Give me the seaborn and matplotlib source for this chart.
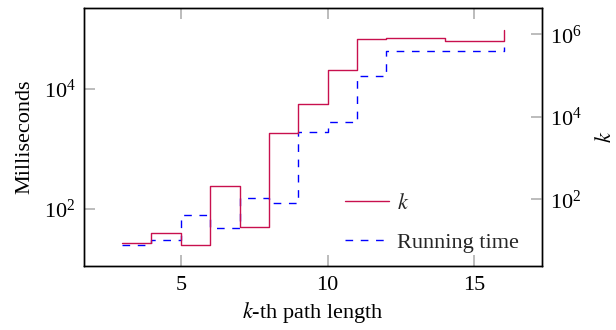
import numpy as np
import pandas as pd
import matplotlib
matplotlib.use("Agg")
import matplotlib.pyplot as plt
import seaborn as sns

# data
path_length = [3, 4, 5, 6, 7, 8, 9, 10, 11, 12, 13, 14, 15, 16]
k_values = [8.9, 15.0, 8.0, 210, 21.7, 3980, 20100, 139000, 757000, 828000, 828000, 700000, 700000, 1320000]
running_ms = [25.4, 30.4, 78.5, 47.7, 151, 126, 1900, 2790, 16300, 43500, 43500, 43500, 43500, 50700]
left_ticks = [1e2, 1e4]
right_ticks = [1e2, 1e4, 1e6]
x_ticks = [5, 10, 15]

sns.set_theme(style="white")
plt.rcParams['font.family'] = ['Liberation Serif', 'DejaVu Serif']
plt.rcParams['mathtext.fontset'] = 'stix'
FS = 16

df = pd.DataFrame({"x": path_length, "k": k_values, "ms": running_ms})

fig = plt.figure(figsize=(6.16, 3.30), dpi=100)
ax = fig.add_axes([84/616, 1-266/330, (541.7-84)/616, (266-8)/330])
ax2 = ax.twinx()

red = '#c8104e'
blue = '#0000ff'

sns.lineplot(data=df, x="x", y="ms", ax=ax, drawstyle='steps-post', color=blue,
             linewidth=1.0, linestyle=(0, (5.5, 5.5)), estimator=None, label="Running time", legend=False)
sns.lineplot(data=df, x="x", y="k", ax=ax2, drawstyle='steps-post', color=red,
             linewidth=1.0, estimator=None, label="$k$", legend=False)

ax.set_yscale('log')
ax2.set_yscale('log')
ax.set_xlim(1.7, 17.3)
ax.set_ylim(10**1.046, 10**5.354)
ax2.set_ylim(10**0.382, 10**6.643)
ax.set_xticks(x_ticks)
ax.set_yticks(left_ticks)
ax2.set_yticks(right_ticks)
ax.yaxis.set_minor_locator(matplotlib.ticker.NullLocator())
ax2.yaxis.set_minor_locator(matplotlib.ticker.NullLocator())

for a in (ax, ax2):
    for s in a.spines.values():
        s.set_color('black')
        s.set_linewidth(1.0)

ax.tick_params(axis='x', which='major', direction='in', length=8, width=1.2, color='#b0b0b0',
               top=True, bottom=True, labelsize=FS, pad=7, labelcolor='black')
ax.tick_params(axis='y', which='major', direction='in', length=8, width=1.2, color='#b0b0b0',
               left=True, right=False, labelsize=FS, pad=6, labelcolor='black')
ax2.tick_params(axis='y', which='major', direction='in', length=8, width=1.2, color='#b0b0b0',
                right=True, left=False, labelsize=FS, pad=6, labelcolor='black')

ax.set_xlabel("$k$-th path length", fontsize=FS, color='black', labelpad=4)
ax.set_ylabel("Milliseconds", fontsize=FS, color='black', labelpad=7)
ax2.set_ylabel("$k$", fontsize=FS, color='black', labelpad=10)

h1, l1 = ax.get_legend_handles_labels()
h2, l2 = ax2.get_legend_handles_labels()
leg = ax2.legend(h2 + h1, l2 + l1, loc='upper left', bbox_to_anchor=((325-84)/457.7, 1-(173-8)/258),
                 frameon=False, fontsize=FS, handlelength=2.0, handletextpad=0.32, labelspacing=0.84)

fig.savefig("out.png", dpi=100)
